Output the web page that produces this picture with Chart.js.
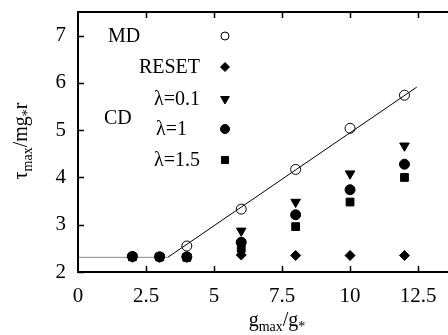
<!DOCTYPE html>
<html>
<head>
<meta charset="utf-8">
<script src="https://cdn.jsdelivr.net/npm/chart.js@4.4.0/dist/chart.umd.min.js"></script>
<style>
  html, body { margin: 0; padding: 0; background: #fff; }
  canvas { display: block; }
</style>
</head>
<body>
<canvas id="chart" width="448" height="335"></canvas>
<script>
// data
const gValues = [2, 3, 4, 6, 8, 10, 12];
const mdX = [4, 6, 8, 10, 12];
const mdY = [2.55, 3.33, 4.17, 5.04, 5.74];
const resetY = [2.32, 2.32, 2.32, 2.36, 2.35, 2.35, 2.35];
const lam01Y = [2.32, 2.32, 2.32, 2.87, 3.48, 4.08, 4.67];
const lam1Y = [2.33, 2.32, 2.32, 2.63, 3.21, 3.74, 4.28];
const lam15Y = [2.32, 2.32, 2.31, 2.50, 2.96, 3.48, 4.00];
const fitX = [0, 3.3, 12.45];
const fitY = [2.31, 2.31, 5.91];
const xTicks = [0, 2.5, 5, 7.5, 10, 12.5];
const yTicks = [2, 3, 4, 5, 6, 7];

const serif = "'Liberation Serif', 'DejaVu Serif', serif";
const pts = (xs, ys) => xs.map((x, i) => ({ x: x, y: ys[i] }));

// legend entries: label, dataset index for the marker
const legendRows = [
  { text: 'MD', align: 'left', x: 108, y: 36, ds: 1 },
  { text: 'RESET', align: 'right', x: 200, y: 67, ds: 2 },
  { text: 'λ=0.1', align: 'right', x: 200, y: 99, ds: 3 },
  { text: 'λ=1', align: 'right', x: 187, y: 129, ds: 4 },
  { text: 'λ=1.5', align: 'right', x: 200, y: 160, ds: 5 }
];

// draws text pieces [text, size, dy] one after another
function drawRich(ctx, parts, x, y, align) {
  let total = 0;
  parts.forEach(p => { ctx.font = p[1] + 'px ' + serif; total += ctx.measureText(p[0]).width; });
  let cx = align === 'center' ? x - total / 2 : x;
  ctx.textAlign = 'left';
  ctx.textBaseline = 'alphabetic';
  parts.forEach(p => {
    ctx.font = p[1] + 'px ' + serif;
    ctx.fillText(p[0], cx, y + p[2]);
    cx += ctx.measureText(p[0]).width;
  });
}

const framePlugin = {
  id: 'frame',
  afterDraw(chart) {
    const ctx = chart.ctx;
    const a = chart.chartArea;
    const xs = chart.scales.x, ys = chart.scales.y;
    ctx.save();
    ctx.strokeStyle = '#000';
    ctx.lineWidth = 2;
    ctx.beginPath();
    ctx.moveTo(a.right + 2, a.top);
    ctx.lineTo(a.left, a.top);
    ctx.lineTo(a.left, a.bottom);
    ctx.lineTo(a.right + 2, a.bottom);
    ctx.stroke();

    // inward tick marks
    ctx.lineWidth = 1.5;
    ctx.beginPath();
    xTicks.forEach(v => {
      const px = Math.round(xs.getPixelForValue(v)) + 0.5;
      if (v === 0) return;
      ctx.moveTo(px, a.bottom); ctx.lineTo(px, a.bottom - 6);
      ctx.moveTo(px, a.top); ctx.lineTo(px, a.top + 6);
    });
    yTicks.forEach(v => {
      const py = Math.round(ys.getPixelForValue(v)) + 0.5;
      ctx.moveTo(a.left, py); ctx.lineTo(a.left + 6, py);
    });
    ctx.stroke();

    // legend
    ctx.fillStyle = '#000';
    ctx.font = '20px ' + serif;
    ctx.textBaseline = 'middle';
    legendRows.forEach(r => {
      ctx.textAlign = r.align;
      ctx.fillText(r.text, r.x, r.y + 1);
      const d = chart.data.datasets[r.ds];
      ctx.strokeStyle = '#000';
      ctx.fillStyle = d.backgroundColor;
      ctx.lineWidth = 1;
      Chart.helpers.drawPoint(ctx, {
        pointStyle: d.pointStyle, rotation: d.rotation || 0,
        radius: d.legendRadius, borderWidth: 1
      }, 225, r.y);
      ctx.fillStyle = '#000';
    });
    ctx.textAlign = 'left';
    ctx.fillText('CD', 104, 119);

    // axis titles
    drawRich(ctx, [['g', 20, 0], ['max', 14, 5], ['/g', 20, 0], ['*', 14, 5]], 277, 326, 'center');
    ctx.translate(27, 141);
    ctx.rotate(-Math.PI / 2);
    drawRich(ctx, [['τ', 20, 0], ['max', 14, 5], ['/mg', 20, 0], ['*', 14, 5], ['r', 20, 0]], 0, 0, 'center');
    ctx.restore();
  }
};

const filled = { backgroundColor: '#000', borderColor: '#000', borderWidth: 1, showLine: false };

new Chart(document.getElementById('chart'), {
  type: 'scatter',
  data: {
    datasets: [
      {
        label: 'fit', data: pts(fitX, fitY), showLine: true, pointRadius: 0,
        borderColor: '#000', borderWidth: 1, order: 10,
        segment: { borderColor: c => c.p0DataIndex === 0 ? '#8a8a8a' : '#000' }
      },
      { label: 'MD', data: pts(mdX, mdY), pointStyle: 'circle', pointRadius: 5, legendRadius: 4,
        backgroundColor: 'rgba(0,0,0,0)', borderColor: '#000', borderWidth: 1, showLine: false, order: 1 },
      { label: 'RESET', data: pts(gValues, resetY), pointStyle: 'rectRot', pointRadius: 5, legendRadius: 4.5,
        ...filled, order: 5 },
      { label: 'λ=0.1', data: pts(gValues, lam01Y), pointStyle: 'triangle', rotation: 180, pointRotation: 180,
        pointRadius: 5.5, legendRadius: 5, ...filled, order: 4 },
      { label: 'λ=1', data: pts(gValues, lam1Y), pointStyle: 'circle', pointRadius: 5, legendRadius: 4.5,
        ...filled, order: 2 },
      { label: 'λ=1.5', data: pts(gValues, lam15Y), pointStyle: 'rect', pointRadius: 5.5, legendRadius: 5,
        ...filled, order: 3 }
    ]
  },
  options: {
    responsive: false,
    animation: false,
    layout: { autoPadding: false, padding: { top: 12, right: 0, left: 0, bottom: 0 } },
    plugins: { legend: { display: false }, tooltip: { enabled: false } },
    scales: {
      x: {
        type: 'linear', min: 0, max: 13.6,
        grid: { display: false, drawTicks: false }, border: { display: false },
        afterBuildTicks: s => { s.ticks = xTicks.map(v => ({ value: v })); },
        afterFit: s => { s.height = 63; s.paddingLeft = 0; s.paddingRight = 0; },
        ticks: { color: '#000', padding: 12, maxRotation: 0, font: { family: serif, size: 21 } }
      },
      y: {
        type: 'linear', min: 2, max: 7.5,
        grid: { display: false, drawTicks: false }, border: { display: false },
        afterBuildTicks: s => { s.ticks = yTicks.map(v => ({ value: v })); },
        afterFit: s => { s.width = 78; s.paddingTop = 0; s.paddingBottom = 0; },
        ticks: { color: '#000', padding: 12, font: { family: serif, size: 21 } }
      }
    }
  },
  plugins: [framePlugin]
});
</script>
</body>
</html>
